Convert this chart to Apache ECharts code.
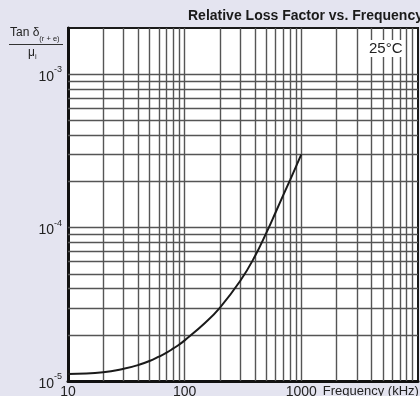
<!DOCTYPE html>
<html>
<head>
<meta charset="utf-8">
<script src="https://cdn.jsdelivr.net/npm/echarts@6/dist/echarts.min.js"></script>
<style>
  html, body { margin: 0; padding: 0; background: #e4e4f0; }
  #chart { width: 420px; height: 396px; }
</style>
</head>
<body>
<div id="chart"></div>
<script>
// frequency in kHz, relative loss factor tan δ / μi
const freqKHz = [10, 20, 30, 40, 50, 60, 70, 80, 90, 100, 150, 200, 300, 400, 500, 600, 700, 800, 900, 1000]
const lossFactor = [1.11e-5, 1.14e-5, 1.20e-5, 1.27e-5, 1.35e-5, 1.44e-5, 1.53e-5, 1.63e-5, 1.73e-5, 1.84e-5,
  2.40e-5, 3.0e-5, 4.5e-5, 6.5e-5, 9.2e-5, 1.25e-4, 1.63e-4, 2.04e-4, 2.5e-4, 3.0e-4]

// grid lines of the log paper
const xGridLines = [20, 30, 40, 50, 60, 70, 80, 90, 100, 200, 300, 400, 500, 600, 700, 800, 900, 1000,
  2000, 3000, 4000, 5000, 6000, 7000, 8000, 9000]
const yGridLines = [2e-5, 3e-5, 4e-5, 5e-5, 6e-5, 7e-5, 8e-5, 9e-5, 1e-4,
  2e-4, 3e-4, 4e-4, 5e-4, 6e-4, 7e-4, 8e-4, 9e-4, 1e-3]

const xLabels = [10, 100, 1000]
const yLabelExps = [-5, -4, -3]

const xMin = 10, xMax = 10000
const yMin = 1e-5, yMax = 2e-3

const FONT = 'Liberation Sans, Arial, sans-serif'
const gridColor = '#555'

const chart = echarts.init(document.getElementById('chart'))

function isPow10(v, list) {
  const e = Math.round(Math.log10(v))
  return Math.abs(Math.log10(v) - e) < 1e-6 && list.indexOf(e) >= 0 ? e : null
}

const gridLineData = xGridLines.map(v => [{ coord: [v, yMin] }, { coord: [v, yMax] }])
  .concat(yGridLines.map(v => [{ coord: [xMin, v] }, { coord: [xMax, v] }]))

chart.setOption({
  backgroundColor: '#e4e4f0',
  animation: false,
  title: {
    text: 'Relative Loss Factor vs. Frequency',
    left: 183,
    top: 4,
    textStyle: { fontFamily: FONT, fontSize: 14, fontWeight: 'bold', color: '#1a1a1a' },
  },
  grid: {
    left: 68, right: 2, top: 28, bottom: 15,
    show: true,
    backgroundColor: '#fff',
    borderColor: '#1a1a1a',
    borderWidth: 2,
    outerBoundsMode: 'none',
  },
  xAxis: {
    type: 'log',
    logBase: 10,
    min: xMin,
    max: xMax,
    name: 'Frequency (kHz)',
    nameLocation: 'end',
    nameGap: -1,
    nameTextStyle: {
      fontFamily: FONT, fontSize: 13, color: '#222',
      align: 'right', verticalAlign: 'top', padding: [4, 0, 0, 0],
    },
    axisLine: { show: true, lineStyle: { color: '#111', width: 3 } },
    axisTick: { show: false },
    splitLine: { show: false },
    axisLabel: {
      margin: 4,
      fontFamily: FONT, fontSize: 14, color: '#222',
      formatter: (v) => xLabels.some(l => Math.abs(l - v) < 1e-6 * l) ? String(Math.round(v)) : '',
    },
  },
  yAxis: {
    type: 'log',
    logBase: 10,
    min: yMin,
    max: yMax,
    axisLine: { show: true, lineStyle: { color: '#111', width: 3 } },
    axisTick: { show: false },
    splitLine: { show: false },
    axisLabel: {
      margin: 6,
      fontFamily: FONT, color: '#222',
      formatter: (v) => {
        const e = isPow10(v, yLabelExps)
        return e === null ? '' : '{b|10}{s|' + e + '}'
      },
      rich: {
        b: { fontFamily: FONT, fontSize: 14, color: '#222', lineHeight: 20, verticalAlign: 'bottom', padding: [3, 0, 0, 0] },
        s: { fontFamily: FONT, fontSize: 9, color: '#222', lineHeight: 10, verticalAlign: 'top', padding: [1, 0, 0, 0] },
      },
    },
  },
  graphic: [
    {
      type: 'text', left: 10, top: 27, z: 10,
      style: {
        text: '{m|Tan δ}{s|(r + e)}',
        rich: {
          m: { fontFamily: FONT, fontSize: 12, fill: '#222', lineHeight: 16, verticalAlign: 'top' },
          s: { fontFamily: FONT, fontSize: 7.5, fill: '#222', lineHeight: 9, verticalAlign: 'bottom' },
        },
      },
    },
    {
      type: 'line', z: 10,
      shape: { x1: 9, y1: 44.5, x2: 63, y2: 44.5 },
      style: { stroke: '#333', lineWidth: 1 },
    },
    {
      type: 'text', left: 28, top: 47, z: 10,
      style: {
        text: '{m|μ}{s|i}',
        rich: {
          m: { fontFamily: FONT, fontSize: 12, fill: '#222', lineHeight: 14, verticalAlign: 'top' },
          s: { fontFamily: FONT, fontSize: 7.5, fill: '#222', lineHeight: 9, verticalAlign: 'bottom' },
        },
      },
    },
    {
      type: 'text', left: 367, top: 40, z: 10,
      style: {
        text: '25°C',
        fontFamily: FONT, fontSize: 15, fill: '#222',
        backgroundColor: '#fff', padding: [1, 2, 1, 2],
      },
    },
  ],
  series: [
    {
      name: 'grid',
      type: 'line',
      z: 1,
      silent: true,
      data: [],
      markLine: {
        silent: true,
        symbol: ['none', 'none'],
        label: { show: false },
        lineStyle: { color: gridColor, width: 1.4, type: 'solid' },
        emphasis: { disabled: true },
        data: gridLineData,
      },
    },
    {
      name: 'loss',
      type: 'line',
      z: 5,
      smooth: 0.45,
      symbol: 'none',
      lineStyle: { color: '#1a1a1a', width: 2 },
      data: freqKHz.map((f, i) => [f, lossFactor[i]]),
    },
  ],
})
</script>
</body>
</html>
